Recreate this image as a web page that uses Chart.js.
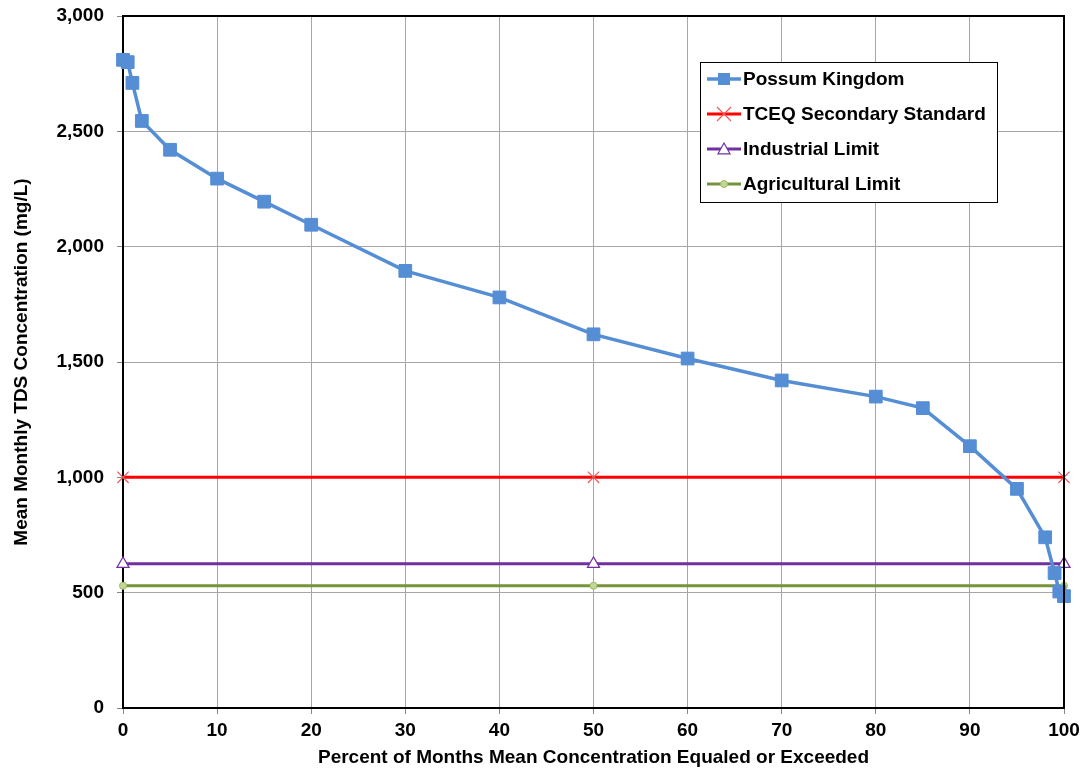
<!DOCTYPE html>
<html>
<head>
<meta charset="utf-8">
<script src="https://cdn.jsdelivr.net/npm/chart.js@4"></script>
<style>
  html, body { margin: 0; padding: 0; background: #fff; }
  #wrap { width: 1085px; height: 772px; position: relative; }
</style>
</head>
<body>
<div id="wrap"><canvas id="tdsChart"></canvas></div>
<script>
// Possum Kingdom exceedance curve
const pctExceeded = [0, 0.5, 1, 2, 5, 10, 15, 20, 30, 40, 50, 60, 70, 80, 85, 90, 95, 98, 99, 99.5, 100];
const possumTDS = [2810, 2800, 2710, 2545, 2420, 2295, 2195, 2095, 1895, 1780, 1620, 1515, 1420, 1350, 1300, 1135, 950, 740, 585, 505, 485];

// reference limits (drawn at 0, 50, 100 percent)
const limitX = [0, 50, 100];
const tceqStandard = [1000, 1000, 1000];
const industrialLimit = [625, 625, 625];
const agriculturalLimit = [530, 530, 530];

const xTicks = [0, 10, 20, 30, 40, 50, 60, 70, 80, 90, 100];
const yTicks = [0, 500, 1000, 1500, 2000, 2500, 3000];

const family = '"Liberation Sans", Arial, sans-serif';
const font = 'bold 19px ' + family;

function toPoints(xs, ys) {
    return xs.map((x, i) => ({ x: x, y: ys[i] }));
}

function drawMarker(ctx, style, x, y, r) {
    ctx.save();
    if (style === 'rect') {
        ctx.fillRect(x - r, y - r, 2 * r, 2 * r);
    } else if (style === 'crossRot') {
        ctx.beginPath();
        ctx.moveTo(x - r, y - r); ctx.lineTo(x + r, y + r);
        ctx.moveTo(x + r, y - r); ctx.lineTo(x - r, y + r);
        ctx.stroke();
    } else if (style === 'triangle') {
        ctx.beginPath();
        ctx.moveTo(x, y - r); ctx.lineTo(x + r, y + r * 0.8); ctx.lineTo(x - r, y + r * 0.8);
        ctx.closePath();
        ctx.fill(); ctx.stroke();
    } else {
        ctx.beginPath();
        ctx.arc(x, y, r, 0, Math.PI * 2);
        ctx.fill(); ctx.stroke();
    }
    ctx.restore();
}

// Legend box inside the plot area, like the Excel original
const boxLegend = {
    id: 'boxLegend',
    afterDraw(chart) {
        const ctx = chart.ctx;
        const left = 700, top = 62, w = 297, h = 140;
        ctx.save();
        ctx.fillStyle = '#fff';
        ctx.fillRect(left, top, w, h);
        ctx.strokeStyle = '#000';
        ctx.lineWidth = 1;
        ctx.strokeRect(left + 0.5, top + 0.5, w, h);
        const rows = [79, 114, 149, 184];
        chart.data.datasets.forEach((ds, i) => {
            const y = rows[i];
            ctx.strokeStyle = ds.borderColor;
            ctx.lineWidth = ds.borderWidth;
            ctx.beginPath();
            ctx.moveTo(707, y);
            ctx.lineTo(741, y);
            ctx.stroke();
            ctx.fillStyle = ds.pointBackgroundColor;
            ctx.strokeStyle = ds.pointBorderColor;
            ctx.lineWidth = ds.pointBorderWidth;
            drawMarker(ctx, ds.pointStyle, 724, y, ds.legendRadius);
            ctx.fillStyle = '#000';
            ctx.font = font;
            ctx.textBaseline = 'middle';
            ctx.fillText(ds.label, 743, y + 1);
        });
        ctx.restore();
    }
};

const tickFont = { family: family, size: 19, weight: 'bold' };

const ctx = document.getElementById('tdsChart').getContext('2d');
new Chart(ctx, {
    type: 'line',
    data: {
        datasets: [{
            label: 'Possum Kingdom',
            data: toPoints(pctExceeded, possumTDS),
            borderColor: '#558ED5',
            borderWidth: 3.5,
            pointStyle: 'rect',
            pointRadius: 9,
            pointBackgroundColor: '#558ED5',
            pointBorderColor: '#558ED5',
            pointBorderWidth: 1,
            legendRadius: 6,
            clip: false
        }, {
            label: 'TCEQ Secondary Standard',
            data: toPoints(limitX, tceqStandard),
            borderColor: '#FF0000',
            borderWidth: 3,
            pointStyle: 'crossRot',
            pointRadius: 8,
            pointBackgroundColor: 'rgba(0,0,0,0)',
            pointBorderColor: '#F05A5A',
            pointBorderWidth: 1.2,
            legendRadius: 7,
            clip: false
        }, {
            label: 'Industrial Limit',
            data: toPoints(limitX, industrialLimit),
            borderColor: '#7030A0',
            borderWidth: 3,
            pointStyle: 'triangle',
            pointRadius: 7,
            pointBackgroundColor: '#fff',
            pointBorderColor: '#7030A0',
            pointBorderWidth: 1.2,
            legendRadius: 6,
            clip: false
        }, {
            label: 'Agricultural Limit',
            data: toPoints(limitX, agriculturalLimit),
            borderColor: '#77933C',
            borderWidth: 3,
            pointStyle: 'circle',
            pointRadius: 3.5,
            pointBackgroundColor: '#C3D69B',
            pointBorderColor: '#9BBB59',
            pointBorderWidth: 1,
            legendRadius: 3.5,
            clip: false
        }]
    },
    options: {
        responsive: true,
        maintainAspectRatio: false,
        animation: false,
        layout: { padding: { left: 0, right: 21, top: 16, bottom: 0 } },
        plugins: {
            legend: { display: false },
            tooltip: { enabled: false }
        },
        scales: {
            x: {
                type: 'linear',
                min: 0,
                max: 100,
                afterBuildTicks: scale => { scale.ticks = xTicks.map(v => ({ value: v })); },
                afterFit: scale => {
                    scale.height = 64;
                    scale.paddingLeft = 0;
                    scale.paddingRight = 0;
                },
                ticks: { color: '#000', font: tickFont, padding: 5, maxRotation: 0 },
                grid: { color: '#A6A6A6', lineWidth: 1, tickLength: 6, tickColor: '#868686' },
                border: { color: '#000', width: 2 },
                title: {
                    display: true,
                    text: 'Percent of Months Mean Concentration Equaled or Exceeded',
                    color: '#000',
                    font: tickFont,
                    padding: { top: 0, bottom: 3 }
                }
            },
            y: {
                min: 0,
                max: 3000,
                afterBuildTicks: scale => { scale.ticks = yTicks.map(v => ({ value: v })); },
                afterFit: scale => {
                    scale.width = 123;
                    scale.paddingTop = 0;
                    scale.paddingBottom = 0;
                },
                ticks: {
                    color: '#000',
                    font: tickFont,
                    padding: 13,
                    callback: v => v.toLocaleString('en-US')
                },
                grid: { color: '#A6A6A6', lineWidth: 1, tickLength: 6, tickColor: '#868686' },
                border: { color: '#000', width: 2 },
                title: {
                    display: true,
                    text: 'Mean Monthly TDS Concentration (mg/L)',
                    color: '#000',
                    font: tickFont,
                    padding: { top: 10, bottom: 0 }
                }
            }
        }
    },
    plugins: [{
        id: 'frame',
        afterDatasetsDraw(chart) {
            // top and right edges of the plot area
            const a = chart.chartArea;
            const c = chart.ctx;
            c.save();
            c.strokeStyle = '#000';
            c.lineWidth = 2;
            c.beginPath();
            c.moveTo(a.left, a.top);
            c.lineTo(a.right, a.top);
            c.lineTo(a.right, a.bottom);
            c.stroke();
            c.restore();
        }
    }, boxLegend]
});
</script>
</body>
</html>
